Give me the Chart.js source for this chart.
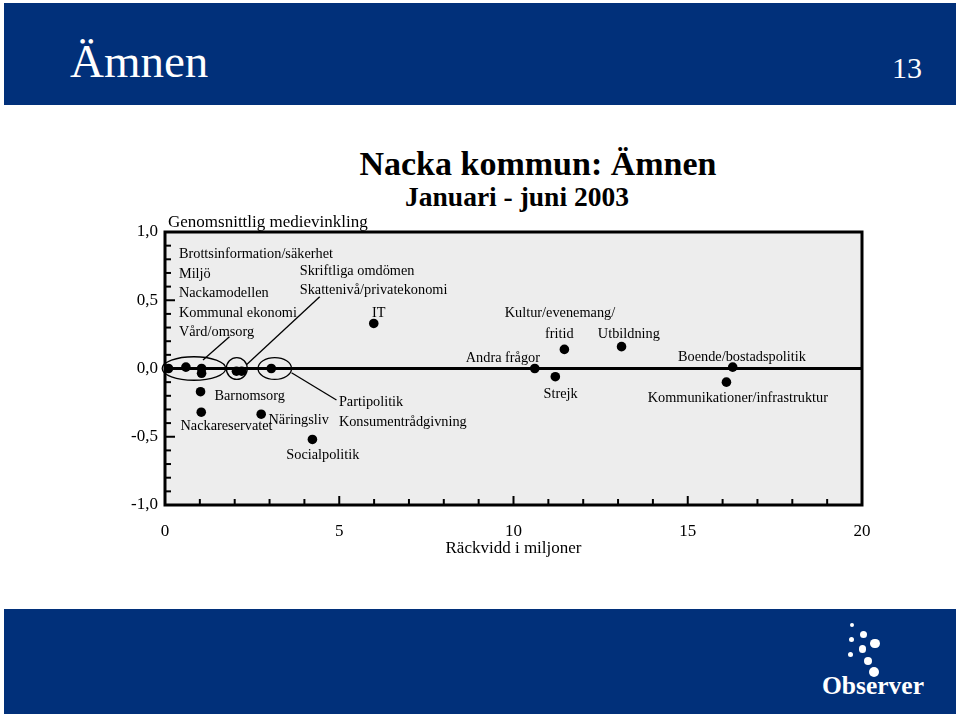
<!DOCTYPE html>
<html><head><meta charset="utf-8">
<script src="https://cdn.jsdelivr.net/npm/chart.js@4/dist/chart.umd.min.js"></script>
<style>
html,body{margin:0;padding:0;background:#fff;}
#page{position:relative;width:960px;height:716px;overflow:hidden;font-family:"Liberation Serif","Times New Roman",serif;}
.band{position:absolute;left:4px;width:952px;background:#01307a;}
.t{position:absolute;white-space:nowrap;line-height:1;}
canvas{position:absolute;left:0;top:0;}
.dot{position:absolute;background:#fff;border-radius:50%;}
</style></head><body>
<div id="page">
 <div class="band" style="top:3px;height:102px"></div>
 <div class="t" style="left:70px;top:38px;font-size:47px;color:#fff">Ämnen</div>
 <div class="t" style="left:892px;top:53px;font-size:30px;color:#fff">13</div>
 <div class="t" style="left:238px;width:600px;text-align:center;top:147px;font-size:34px;font-weight:bold">Nacka kommun: Ämnen</div>
 <div class="t" style="left:217px;width:600px;text-align:center;top:183px;font-size:27.5px;font-weight:bold">Januari - juni 2003</div>
 <div class="band" style="top:609px;height:105px"></div>
 <div class="dot" style="left:849.5px;top:622.8px;width:4.4px;height:4.4px"></div>
 <div class="dot" style="left:859.8px;top:630.8px;width:7px;height:7px"></div>
 <div class="dot" style="left:849.2px;top:636.8px;width:5px;height:5px"></div>
 <div class="dot" style="left:870.3px;top:638.6px;width:9.4px;height:9.4px"></div>
 <div class="dot" style="left:858.6px;top:645.3px;width:7.4px;height:7.4px"></div>
 <div class="dot" style="left:848.2px;top:651.5px;width:5px;height:5px"></div>
 <div class="dot" style="left:863.5px;top:656.5px;width:8.4px;height:8.4px"></div>
 <div class="dot" style="left:869px;top:666.7px;width:10px;height:10px"></div>
 <div class="t" style="left:822px;top:673px;font-size:25.5px;font-weight:bold;color:#fff">Observer</div>
 <canvas id="c" width="960" height="716"></canvas>
</div>
<script>
// ---- data ----
const topics = ['Brottsinformation/säkerhet','Miljö','Nackamodellen','Kommunal ekonomi',
  'Skriftliga omdömen','Skattenivå/privatekonomi','Partipolitik','Barnomsorg','Nackareservatet',
  'Näringsliv','Socialpolitik','IT','Andra frågor','Strejk','Kultur/evenemang/fritid',
  'Utbildning','Kommunikationer/infrastruktur','Boende/bostadspolitik'];
const reach = [0.1,0.6,1.05,1.05,2.05,2.2,3.05,1.02,1.04,2.76,4.23,5.99,10.61,11.2,11.46,13.1,16.11,16.29];
const angle = [0.0,0.01,0.0,-0.035,-0.02,-0.02,0.0,-0.17,-0.32,-0.335,-0.52,0.33,0.0,-0.06,0.14,0.16,-0.10,0.01];
const xTickLabels = ['0','5','10','15','20'];
const yTickLabels = ['-1,0','-0,5','0,0','0,5','1,0'];
const xTitle = 'Räckvidd i miljoner';
const yTitle = 'Genomsnittlig medievinkling';

// ---- annotation layout (data units) ----
const labelTexts = ['Brottsinformation/säkerhet','Miljö','Nackamodellen','Kommunal ekonomi','Vård/omsorg',
  'Skriftliga omdömen','Skattenivå/privatekonomi','IT','Barnomsorg','Nackareservatet','Näringsliv',
  'Partipolitik','Konsumentrådgivning','Socialpolitik','Kultur/evenemang/','fritid','Utbildning',
  'Andra frågor','Boende/bostadspolitik','Strejk','Kommunikationer/infrastruktur'];
const labelX = [0.40,0.40,0.40,0.40,0.40,3.865,3.865,6.13,1.42,0.445,2.97,4.99,4.99,3.48,9.75,10.905,12.42,8.63,14.72,10.86,13.85];
const labelY = [0.836,0.692,0.551,0.408,0.269,0.709,0.570,0.408,-0.206,-0.426,-0.377,-0.247,-0.394,-0.633,0.403,0.251,0.248,0.074,0.084,-0.187,-0.216];
const labelAlign = labelTexts.map(t => t === 'IT' ? 'center' : 'left');
const ellipses = [
  {cx:0.83, cy:0.0, rx:0.91, ry:0.086},
  {cx:2.06, cy:0.0, rx:0.30, ry:0.08},
  {cx:3.15, cy:0.0, rx:0.48, ry:0.08}
];
const leaders = [
  [1.09,0.062,1.85,0.233],
  [2.33,0.026,4.44,0.526],
  [3.63,-0.031,4.92,-0.231]
];

const FONT = '"Liberation Serif","Times New Roman",serif';
const isHalf = v => Math.abs(v*2 - Math.round(v*2)) < 1e-6;

const decor = {
  id:'decor',
  beforeDraw(chart){
    const {ctx, chartArea:a} = chart;
    ctx.save();
    ctx.fillStyle = '#ededed';
    ctx.fillRect(a.left, a.top, a.right-a.left, a.bottom-a.top);
    ctx.restore();
  },
  beforeDatasetsDraw(chart){
    const {ctx, chartArea:a, scales:{x, y}} = chart;
    ctx.save();
    ctx.strokeStyle = '#000';
    ctx.lineWidth = 2;
    y.ticks.forEach(t => {
      const py = y.getPixelForValue(t.value);
      const len = isHalf(t.value) ? 10 : 6;
      ctx.beginPath(); ctx.moveTo(a.left, py); ctx.lineTo(a.left+len, py); ctx.stroke();
    });
    x.ticks.forEach(t => {
      const px = x.getPixelForValue(t.value);
      const len = (Math.round(t.value) % 5 === 0) ? 9 : 6;
      ctx.beginPath(); ctx.moveTo(px, a.bottom); ctx.lineTo(px, a.bottom-len); ctx.stroke();
    });
    ctx.lineWidth = 3;
    const y0 = y.getPixelForValue(0);
    ctx.beginPath(); ctx.moveTo(a.left, y0); ctx.lineTo(a.right, y0); ctx.stroke();
    ctx.strokeRect(a.left, a.top, a.right-a.left, a.bottom-a.top);
    ctx.lineWidth = 1.3;
    ellipses.forEach(e => {
      const cx = x.getPixelForValue(e.cx), cy = y.getPixelForValue(e.cy);
      const rx = x.getPixelForValue(e.cx+e.rx) - cx;
      const ry = cy - y.getPixelForValue(e.cy+e.ry);
      ctx.beginPath(); ctx.ellipse(cx, cy, rx, ry, 0, 0, Math.PI*2); ctx.stroke();
    });
    leaders.forEach(l => {
      ctx.beginPath();
      ctx.moveTo(x.getPixelForValue(l[0]), y.getPixelForValue(l[1]));
      ctx.lineTo(x.getPixelForValue(l[2]), y.getPixelForValue(l[3]));
      ctx.stroke();
    });
    ctx.restore();
  },
  afterDatasetsDraw(chart){
    const {ctx, chartArea:a, scales:{x, y}} = chart;
    ctx.save();
    ctx.fillStyle = '#000';
    ctx.font = '14.3px ' + FONT;
    ctx.textBaseline = 'middle';
    labelTexts.forEach((t, i) => {
      ctx.textAlign = labelAlign[i];
      ctx.fillText(t, x.getPixelForValue(labelX[i]), y.getPixelForValue(labelY[i]));
    });
    ctx.font = '17px ' + FONT;
    ctx.textAlign = 'left';
    ctx.textBaseline = 'alphabetic';
    ctx.fillText(yTitle, a.left + 3, a.top - 5);
    ctx.restore();
  }
};

const fixFit = (w, h) => scale => {
  if (w) scale.width = w;
  if (h) scale.height = h;
  scale.paddingLeft = 0; scale.paddingRight = 0; scale.paddingTop = 0; scale.paddingBottom = 0;
};

new Chart(document.getElementById('c'), {
  type: 'scatter',
  data: {
    datasets: [{
      label: 'Ämnen',
      data: reach.map((v, i) => ({x: v, y: angle[i], name: topics[i]})),
      backgroundColor: '#000',
      borderWidth: 0,
      pointRadius: 4.8,
      pointHoverRadius: 4.8
    }]
  },
  options: {
    responsive: false,
    animation: false,
    events: [],
    layout: {padding: {left: 105, right: 98, top: 232, bottom: 151}},
    plugins: {legend: {display: false}, tooltip: {enabled: false}, title: {display: false}},
    scales: {
      x: {
        type: 'linear', min: 0, max: 20,
        afterFit: fixFit(0, 60),
        grid: {display: false, drawTicks: false},
        border: {display: false},
        ticks: {
          stepSize: 1, autoSkip: false, maxRotation: 0, padding: 16,
          color: '#000', font: {family: FONT, size: 17},
          callback: v => (Math.round(v) % 5 === 0) ? xTickLabels[Math.round(v)/5] : ''
        },
        title: {display: true, text: xTitle, color: '#000', font: {family: FONT, size: 17}, padding: {top: 0, bottom: 6}}
      },
      y: {
        type: 'linear', min: -1, max: 1,
        afterFit: fixFit(60, 0),
        grid: {display: false, drawTicks: false},
        border: {display: false},
        ticks: {
          stepSize: 0.1, autoSkip: false, padding: 7,
          color: '#000', font: {family: FONT, size: 17},
          callback: v => isHalf(v) ? yTickLabels[Math.round((v+1)*2)] : ''
        }
      }
    }
  },
  plugins: [decor]
});
</script>
</body></html>
